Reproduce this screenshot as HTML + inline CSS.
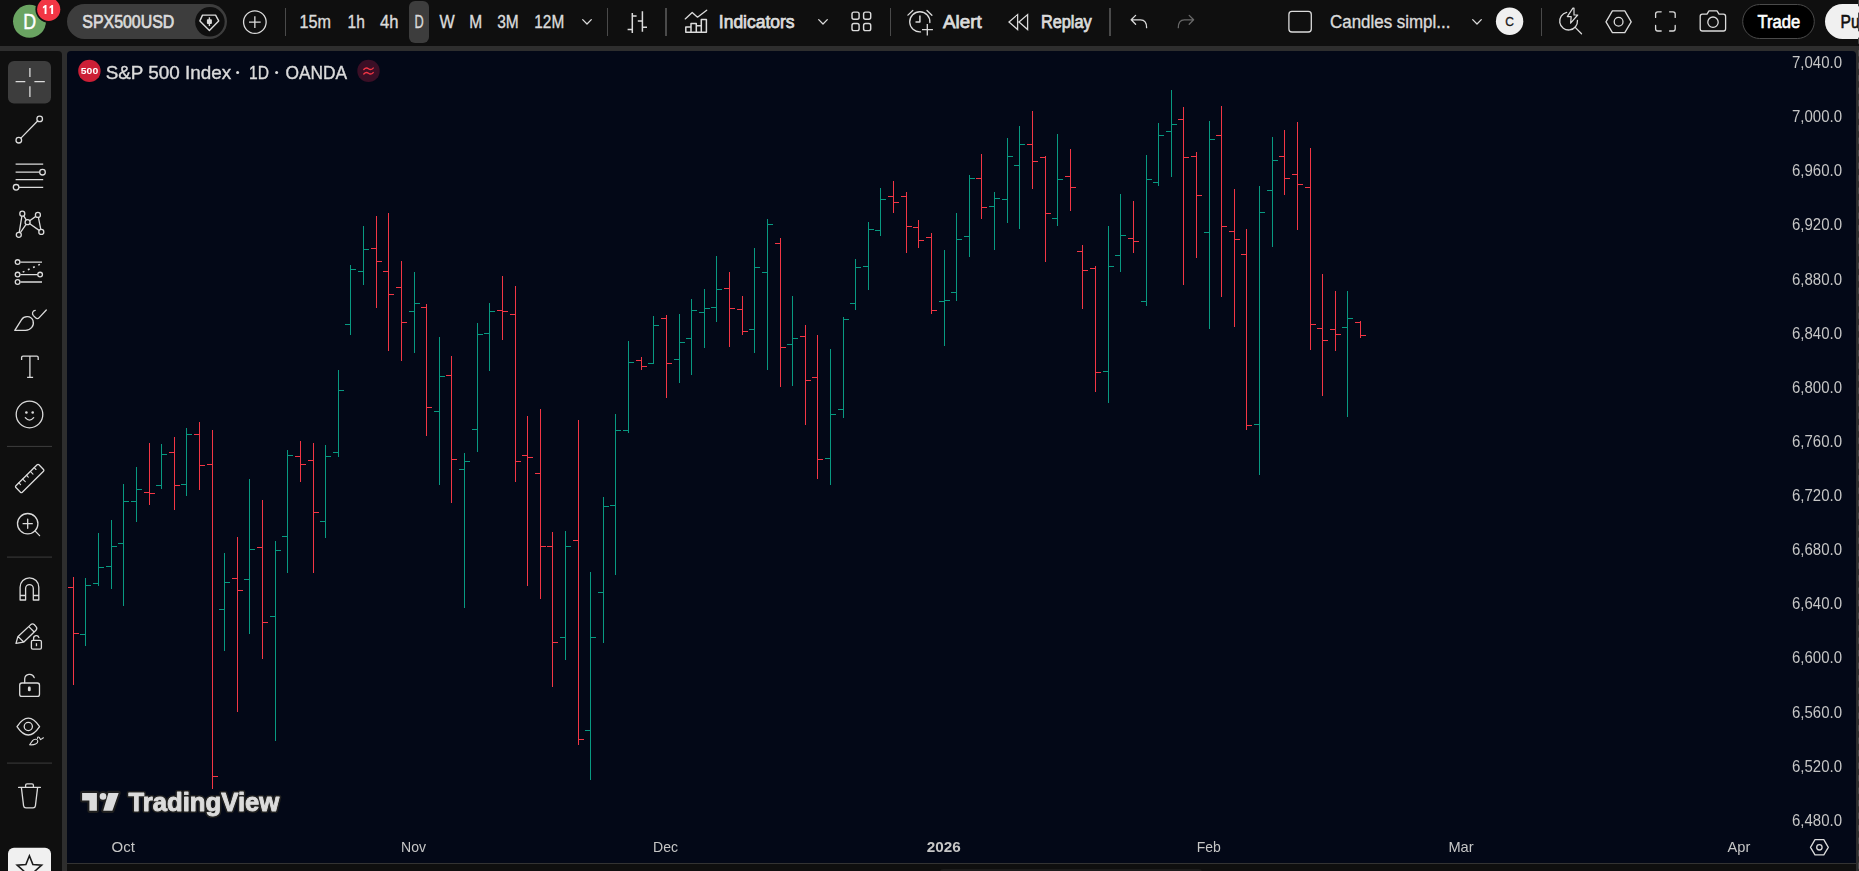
<!DOCTYPE html>
<html><head><meta charset="utf-8"><title>SPX500USD</title>
<style>
html,body{margin:0;padding:0;background:#2e2e2e;width:1859px;height:871px;overflow:hidden;font-family:"Liberation Sans",sans-serif;}
.p{position:absolute;}
#top{left:0;top:0;width:1859px;height:46px;background:#0f0f0f;}
#left{left:0;top:51px;width:62px;height:820px;background:#0f0f0f;border-top-right-radius:4px;}
#chart{left:67px;top:51px;width:1789px;height:812px;background:#030817;border-radius:4px 4px 0 0;}
#bot{left:67px;top:864px;width:1789px;height:7px;background:#0f0f0f;}
svg{position:absolute;left:0;top:0;}
text{font-family:"Liberation Sans",sans-serif;}
</style></head><body>
<div class="p" id="top"></div><div class="p" id="left"></div><div class="p" id="chart"></div><div class="p" id="bot"></div>
<svg width="1859" height="871" viewBox="0 0 1859 871">

<circle cx="29.5" cy="21.35" r="16.5" fill="#6aa462"/>
<text x="29.6" y="29.1" font-size="22.3" fill="#ffffff" font-weight="normal" text-anchor="middle" textLength="12.9" lengthAdjust="spacingAndGlyphs"  stroke="#ffffff" stroke-width="0.5">D</text>
<circle cx="48.7" cy="9.35" r="13.3" fill="#0f0f0f"/><circle cx="48.7" cy="9.35" r="11.6" fill="#f23645"/>
<path fill="#fff" d="M46.5 5.1V13.9H44.6V7.5L42.9 8.6V6.7L45.1 5.1ZM53.1 5.1V13.9H51.2V7.5L49.5 8.6V6.7L51.7 5.1Z"/>
<rect x="67" y="4" width="160" height="35" rx="17.5" fill="#3d3d3d"/>
<circle cx="209.9" cy="21.85" r="14.75" fill="#0f0f0f"/>
<text x="82.3" y="27.9" font-size="17.5" fill="#dbdbdb" font-weight="normal" text-anchor="start" textLength="92" lengthAdjust="spacingAndGlyphs"  stroke="#dbdbdb" stroke-width="0.7">SPX500USD</text>
<path d="M202.5 15.1H215.6L218.7 20.9L209.4 30.4L199.9 20.9Z" stroke-width="1.4" fill="none" stroke="#dbdbdb" stroke-width="1.3" stroke-linecap="round" stroke-linejoin="round"/>
<path d="M209.4 17.3V26.1" stroke-width="1.4" stroke-linecap="butt" fill="none" stroke="#dbdbdb" stroke-width="1.3" stroke-linecap="round" stroke-linejoin="round"/><rect x="206.9" y="19.2" width="5" height="4.8" rx="0.9" fill="#dbdbdb"/>
<circle cx="254.85" cy="22.1" r="11.3" fill="none" stroke="#dbdbdb" stroke-width="1.3" stroke-linecap="round" stroke-linejoin="round"/><path d="M249 22.1H260.7M254.85 16.2V28" stroke-linecap="butt" fill="none" stroke="#dbdbdb" stroke-width="1.3" stroke-linecap="round" stroke-linejoin="round"/>
<rect x="285" y="8" width="1" height="28" fill="#4a4a4a" shape-rendering="crispEdges"/>
<rect x="607" y="8" width="1" height="28" fill="#4a4a4a" shape-rendering="crispEdges"/>
<rect x="665" y="8" width="2" height="28" fill="#4a4a4a" shape-rendering="crispEdges"/>
<rect x="890" y="8" width="1" height="28" fill="#4a4a4a" shape-rendering="crispEdges"/>
<rect x="1109" y="8" width="2" height="28" fill="#4a4a4a" shape-rendering="crispEdges"/>
<rect x="1541" y="8" width="1" height="28" fill="#4a4a4a" shape-rendering="crispEdges"/>
<rect x="409" y="1" width="20" height="42" rx="6" fill="#3d3d3d"/>
<text x="299.5" y="28.1" font-size="17.5" fill="#dbdbdb" font-weight="normal" text-anchor="start" textLength="31.5" lengthAdjust="spacingAndGlyphs"  stroke="#dbdbdb" stroke-width="0.35">15m</text>
<text x="347.6" y="28.1" font-size="17.5" fill="#dbdbdb" font-weight="normal" text-anchor="start" textLength="17.3" lengthAdjust="spacingAndGlyphs"  stroke="#dbdbdb" stroke-width="0.35">1h</text>
<text x="379.9" y="28.1" font-size="17.5" fill="#dbdbdb" font-weight="normal" text-anchor="start" textLength="18.5" lengthAdjust="spacingAndGlyphs"  stroke="#dbdbdb" stroke-width="0.35">4h</text>
<text x="414.6" y="28.1" font-size="17.5" fill="#dbdbdb" font-weight="normal" text-anchor="start" textLength="9.2" lengthAdjust="spacingAndGlyphs"  stroke="#dbdbdb" stroke-width="0.35">D</text>
<text x="439.6" y="28.1" font-size="17.5" fill="#dbdbdb" font-weight="normal" text-anchor="start" textLength="15.2" lengthAdjust="spacingAndGlyphs"  stroke="#dbdbdb" stroke-width="0.35">W</text>
<text x="469.3" y="28.1" font-size="17.5" fill="#dbdbdb" font-weight="normal" text-anchor="start" textLength="12.9" lengthAdjust="spacingAndGlyphs"  stroke="#dbdbdb" stroke-width="0.35">M</text>
<text x="497.2" y="28.1" font-size="17.5" fill="#dbdbdb" font-weight="normal" text-anchor="start" textLength="21.5" lengthAdjust="spacingAndGlyphs"  stroke="#dbdbdb" stroke-width="0.35">3M</text>
<text x="534.3" y="28.1" font-size="17.5" fill="#dbdbdb" font-weight="normal" text-anchor="start" textLength="29.9" lengthAdjust="spacingAndGlyphs"  stroke="#dbdbdb" stroke-width="0.35">12M</text>
<path d="M582.7 19.6L587 24.0L591.3 19.6" fill="none" stroke="#dbdbdb" stroke-width="1.3" stroke-linecap="round" stroke-linejoin="round"/>
<path d="M632.3 12.9V33M627.6 29.6H632.3M632.3 16H636.6M642.4 11.2V31.8M637.8 20.9H642.4M642.4 27.2H647" stroke-linecap="butt" stroke-width="1.5" fill="none" stroke="#dbdbdb" stroke-width="1.3" stroke-linecap="round" stroke-linejoin="round"/>
<path d="M685.2 18.9L692.2 12.4L697.5 17.2L706.7 10.2" fill="none" stroke="#dbdbdb" stroke-width="1.3" stroke-linecap="round" stroke-linejoin="round"/>
<path d="M685.8 32.2V27H691V32.2M691 27V23.4H696.3V32.2M696.3 25.8H701.3V32.2M701.3 25.8V19.4H706.4V32.2H685.8" stroke-width="1.5" fill="none" stroke="#dbdbdb" stroke-width="1.3" stroke-linecap="round" stroke-linejoin="round"/>
<text x="718.8" y="28.1" font-size="17.5" fill="#dbdbdb" font-weight="normal" text-anchor="start" textLength="75.8" lengthAdjust="spacingAndGlyphs"  stroke="#dbdbdb" stroke-width="0.75">Indicators</text>
<path d="M818.7 19.6L823 24.0L827.3 19.6" fill="none" stroke="#dbdbdb" stroke-width="1.3" stroke-linecap="round" stroke-linejoin="round"/>
<rect x="852" y="12.1" width="7.1" height="7.1" rx="1.9" stroke-width="1.45" fill="none" stroke="#dbdbdb" stroke-width="1.3" stroke-linecap="round" stroke-linejoin="round"/>
<rect x="852" y="23.5" width="7.1" height="7.1" rx="1.9" stroke-width="1.45" fill="none" stroke="#dbdbdb" stroke-width="1.3" stroke-linecap="round" stroke-linejoin="round"/>
<rect x="863.6" y="12.1" width="7.1" height="7.1" rx="1.9" stroke-width="1.45" fill="none" stroke="#dbdbdb" stroke-width="1.3" stroke-linecap="round" stroke-linejoin="round"/>
<rect x="863.6" y="23.5" width="7.1" height="7.1" rx="1.9" stroke-width="1.45" fill="none" stroke="#dbdbdb" stroke-width="1.3" stroke-linecap="round" stroke-linejoin="round"/>
<path d="M920.5 31.93A10.1 10.1 0 1 1 929.88 22.55" fill="none" stroke="#dbdbdb" stroke-width="1.3" stroke-linecap="round" stroke-linejoin="round"/>
<path d="M919.9 15.5V21.9H915.5" stroke-width="1.5" stroke-linecap="butt" fill="none" stroke="#dbdbdb" stroke-width="1.3" stroke-linecap="round" stroke-linejoin="round"/>
<path d="M907.9 15.1L912.8 10.5M927 10.5L931.9 15.3" fill="none" stroke="#dbdbdb" stroke-width="1.3" stroke-linecap="round" stroke-linejoin="round"/>
<path d="M922 29.6H932.9M927.3 24V35.4" stroke-linecap="butt" fill="none" stroke="#dbdbdb" stroke-width="1.3" stroke-linecap="round" stroke-linejoin="round"/>
<text x="943" y="28.1" font-size="17.5" fill="#dbdbdb" font-weight="normal" text-anchor="start" textLength="38.7" lengthAdjust="spacingAndGlyphs"  stroke="#dbdbdb" stroke-width="0.75">Alert</text>
<path d="M1017.6 14.6V29.6L1009 22.1ZM1027.6 14.6V29.6L1019 22.1Z" stroke-linejoin="miter" fill="none" stroke="#dbdbdb" stroke-width="1.3" stroke-linecap="round" stroke-linejoin="round"/>
<text x="1040.9" y="28.1" font-size="17.5" fill="#dbdbdb" font-weight="normal" text-anchor="start" textLength="50.8" lengthAdjust="spacingAndGlyphs"  stroke="#dbdbdb" stroke-width="0.75">Replay</text>
<path d="M1135.6 15.4L1131.2 19.8L1135.6 24.2M1131.6 19.8H1140.6Q1146.6 19.8 1146.6 27.7" fill="none" stroke="#dbdbdb" stroke-width="1.3" stroke-linecap="round" stroke-linejoin="round"/>
<path d="M1189.2 15.4L1193.6 19.8L1189.2 24.2M1193.2 19.8H1184.3Q1178.3 19.8 1178.3 27.7" fill="none" stroke="#686868" stroke-width="1.3" stroke-linecap="round" stroke-linejoin="round"/>
<rect x="1288.9" y="11.4" width="22.4" height="20.6" rx="3" fill="none" stroke="#dbdbdb" stroke-width="1.3" stroke-linecap="round" stroke-linejoin="round"/>
<text x="1330" y="28.1" font-size="17.5" fill="#dbdbdb" font-weight="normal" text-anchor="start" textLength="120.4" lengthAdjust="spacingAndGlyphs"  stroke="#dbdbdb" stroke-width="0.35">Candles simpl...</text>
<path d="M1472.7 19.6L1477 24.0L1481.3 19.6" fill="none" stroke="#dbdbdb" stroke-width="1.3" stroke-linecap="round" stroke-linejoin="round"/>
<circle cx="1509.6" cy="21.2" r="13.7" fill="#f0f0f0"/>
<text x="1509.6" y="25.5" font-size="12" fill="#1a1a1a" font-weight="normal" text-anchor="middle"  stroke="#1a1a1a" stroke-width="0.3">C</text>
<path d="M1566.7 12.4A8.9 8.9 0 1 0 1577.45 20.4" fill="none" stroke="#dbdbdb" stroke-width="1.3" stroke-linecap="round" stroke-linejoin="round"/>
<path d="M1575.2 27.4L1581.5 33.7" fill="none" stroke="#dbdbdb" stroke-width="1.3" stroke-linecap="round" stroke-linejoin="round"/>
<path d="M1572.9 8.2L1567.3 16.6H1571.2L1570.6 23.2L1577.7 15H1574L1574 8.2Z" stroke-width="1.2" fill="none" stroke="#dbdbdb" stroke-width="1.3" stroke-linecap="round" stroke-linejoin="round"/>
<path d="M1606 21.8L1612.4 10.9H1624.8L1631.2 21.8L1624.8 32.7H1612.4Z" fill="none" stroke="#dbdbdb" stroke-width="1.3" stroke-linecap="round" stroke-linejoin="round"/><circle cx="1618.6" cy="21.8" r="4.4" fill="none" stroke="#dbdbdb" stroke-width="1.3" stroke-linecap="round" stroke-linejoin="round"/>
<path d="M1655.6 17.4V14Q1655.6 11.8 1657.8 11.8H1661.2M1669.6 11.8H1673Q1675.2 11.8 1675.2 14V17.4M1675.2 25.4V28.8Q1675.2 31 1673 31H1669.6M1661.2 31H1657.8Q1655.6 31 1655.6 28.8V25.4" fill="none" stroke="#dbdbdb" stroke-width="1.3" stroke-linecap="round" stroke-linejoin="round"/>
<path d="M1702.4 14.2H1707L1709 10.8H1717L1719 14.2H1723.4Q1725.6 14.2 1725.6 16.4V28.8Q1725.6 31 1723.4 31H1702.4Q1700.2 31 1700.2 28.8V16.4Q1700.2 14.2 1702.4 14.2Z" fill="none" stroke="#dbdbdb" stroke-width="1.3" stroke-linecap="round" stroke-linejoin="round"/><circle cx="1713" cy="22.2" r="5.2" fill="none" stroke="#dbdbdb" stroke-width="1.3" stroke-linecap="round" stroke-linejoin="round"/>
<rect x="1742.7" y="4.5" width="71.6" height="34" rx="17" fill="#000" stroke="#4a4a4a" stroke-width="1"/>
<text x="1757.5" y="28.1" font-size="17.5" fill="#ffffff" font-weight="normal" text-anchor="start" textLength="42.7" lengthAdjust="spacingAndGlyphs"  stroke="#ffffff" stroke-width="0.6">Trade</text>
<rect x="1825" y="4" width="80" height="35" rx="17.5" fill="#f0f0f0"/>
<text x="1840.6" y="28.1" font-size="17.5" fill="#0f0f0f" font-weight="normal" text-anchor="start" textLength="19" lengthAdjust="spacingAndGlyphs"  stroke="#0f0f0f" stroke-width="0.6">Pu</text>
<rect x="8" y="61" width="43" height="42.4" rx="6" fill="#3d3d3d"/>
<path d="M15.6 81.7H25.3M34.4 81.7H44.8M29.9 67.9V77.1M29.9 86.3V97.1" stroke-linecap="butt" fill="none" stroke="#dbdbdb" stroke-width="1.3" stroke-linecap="round" stroke-linejoin="round"/>
<path d="M20.9 138.1L37.6 121" fill="none" stroke="#dbdbdb" stroke-width="1.3" stroke-linecap="round" stroke-linejoin="round"/><circle cx="39.7" cy="118.9" r="2.8" fill="none" stroke="#dbdbdb" stroke-width="1.3" stroke-linecap="round" stroke-linejoin="round"/><circle cx="18.8" cy="140.2" r="2.8" fill="none" stroke="#dbdbdb" stroke-width="1.3" stroke-linecap="round" stroke-linejoin="round"/>
<path d="M15.6 164.1H43.2M15.6 172.2H39.6M15.6 179.7H43.2M19 187.3H43.2" stroke-linecap="butt" fill="none" stroke="#dbdbdb" stroke-width="1.3" stroke-linecap="round" stroke-linejoin="round"/><circle cx="42.5" cy="172.2" r="2.8" stroke="#dbdbdb" stroke-width="1.3" stroke-linecap="round" stroke-linejoin="round" fill="#0f0f0f"/><circle cx="16.1" cy="187.3" r="2.8" stroke="#dbdbdb" stroke-width="1.3" stroke-linecap="round" stroke-linejoin="round" fill="#0f0f0f"/>
<path d="M18.8 234.8L22.3 213.7L27.6 222.2L37.9 214.9L41.3 231.9L27.6 222.2Z" fill="none" stroke="#dbdbdb" stroke-width="1.3" stroke-linecap="round" stroke-linejoin="round"/>
<circle cx="22.3" cy="213.7" r="2.5" stroke="#dbdbdb" stroke-width="1.3" stroke-linecap="round" stroke-linejoin="round" fill="#0f0f0f"/>
<circle cx="37.9" cy="214.9" r="2.5" stroke="#dbdbdb" stroke-width="1.3" stroke-linecap="round" stroke-linejoin="round" fill="#0f0f0f"/>
<circle cx="27.6" cy="222.2" r="2.5" stroke="#dbdbdb" stroke-width="1.3" stroke-linecap="round" stroke-linejoin="round" fill="#0f0f0f"/>
<circle cx="41.3" cy="231.9" r="2.5" stroke="#dbdbdb" stroke-width="1.3" stroke-linecap="round" stroke-linejoin="round" fill="#0f0f0f"/>
<circle cx="18.8" cy="234.8" r="2.5" stroke="#dbdbdb" stroke-width="1.3" stroke-linecap="round" stroke-linejoin="round" fill="#0f0f0f"/>
<path d="M20.4 262.1H42M20.4 274.6H37.4M20.4 282H42" stroke-linecap="butt" fill="none" stroke="#dbdbdb" stroke-width="1.3" stroke-linecap="round" stroke-linejoin="round"/>
<path d="M22.7 272.1L40.4 264.2" stroke-dasharray="1.9 3.76" stroke-linecap="butt" stroke-width="1.5" fill="none" stroke="#dbdbdb" stroke-width="1.3" stroke-linecap="round" stroke-linejoin="round"/>
<circle cx="17.6" cy="262.1" r="2.35" fill="none" stroke="#dbdbdb" stroke-width="1.3" stroke-linecap="round" stroke-linejoin="round"/>
<circle cx="17.6" cy="274.6" r="2.35" fill="none" stroke="#dbdbdb" stroke-width="1.3" stroke-linecap="round" stroke-linejoin="round"/>
<circle cx="40.1" cy="274.6" r="2.35" fill="none" stroke="#dbdbdb" stroke-width="1.3" stroke-linecap="round" stroke-linejoin="round"/>
<circle cx="17.6" cy="282" r="2.35" fill="none" stroke="#dbdbdb" stroke-width="1.3" stroke-linecap="round" stroke-linejoin="round"/>
<path d="M14.8 330.4L21.6 319.6C24 315.6 31 315.4 33 320.6C34.6 326 30.6 330.2 25.6 330.3Z" fill="none" stroke="#dbdbdb" stroke-width="1.3" stroke-linecap="round" stroke-linejoin="round"/>
<path d="M35.2 310.4C32.6 310.8 31.6 313.6 33.4 315.6L35.6 317.8C36.8 319 38 319 39.2 317.6L46.3 310" fill="none" stroke="#dbdbdb" stroke-width="1.3" stroke-linecap="round" stroke-linejoin="round"/>
<path d="M21.6 360V357.6Q21.6 356.2 23 356.2H36.8Q38.2 356.2 38.2 357.6V360M29.9 356.2V377.4M27.1 377.4H33.1" stroke-linecap="butt" fill="none" stroke="#dbdbdb" stroke-width="1.3" stroke-linecap="round" stroke-linejoin="round"/>
<circle cx="29.5" cy="414.5" r="13.3" fill="none" stroke="#dbdbdb" stroke-width="1.3" stroke-linecap="round" stroke-linejoin="round"/><circle cx="26.4" cy="412.5" r="1.3" fill="#dbdbdb"/><circle cx="32.7" cy="412.5" r="1.3" fill="#dbdbdb"/><path d="M25.3 417.7Q29.5 422.6 33.7 417.7" fill="none" stroke="#dbdbdb" stroke-width="1.3" stroke-linecap="round" stroke-linejoin="round"/>
<rect x="7" y="445.9" width="45" height="1" fill="#3d3d3d"/>
<rect x="7" y="556.6" width="45" height="1" fill="#3d3d3d"/>
<rect x="7" y="762.6" width="45" height="1" fill="#3d3d3d"/>
<g transform="translate(29.7 478.5) rotate(-44.6)"><rect x="-16.2" y="-4.55" width="32.4" height="9.1" rx="1.3" fill="none" stroke="#dbdbdb" stroke-width="1.3" stroke-linecap="round" stroke-linejoin="round"/><path d="M-10.8 -4.55V-2M-5.4 -4.55V-0.8M0 -4.55V-2M5.4 -4.55V-0.8M10.8 -4.55V-2" stroke-width="1.1" fill="none" stroke="#dbdbdb" stroke-width="1.3" stroke-linecap="round" stroke-linejoin="round"/></g>
<circle cx="27.7" cy="523.7" r="10.2" fill="none" stroke="#dbdbdb" stroke-width="1.3" stroke-linecap="round" stroke-linejoin="round"/><path d="M23.1 523.7H32.3M27.7 519.1V528.3M35 530.9L39.6 535.6" fill="none" stroke="#dbdbdb" stroke-width="1.3" stroke-linecap="round" stroke-linejoin="round"/>
<path d="M20.1 600V587.15A9.35 9.35 0 0 1 38.8 587.15V600H33.3V588.55A3.85 3.85 0 0 0 25.6 588.55V600ZM20.1 595.5H25.6M33.3 595.5H38.8" fill="none" stroke="#dbdbdb" stroke-width="1.3" stroke-linecap="round" stroke-linejoin="round"/>
<path d="M16 643.4L17.8 636.8L30.8 624.6Q32.6 623 34.4 624.8L36 626.6Q37.6 628.4 36 630.2L23.6 642.2ZM18.2 636.6L23.4 641.8M28.8 626.6L34.2 632" fill="none" stroke="#dbdbdb" stroke-width="1.3" stroke-linecap="round" stroke-linejoin="round"/>
<rect x="31.4" y="640.4" width="10" height="8.8" rx="1.4" stroke="#dbdbdb" stroke-width="1.3" stroke-linecap="round" stroke-linejoin="round" fill="#0f0f0f"/><path d="M33.6 640.2V638.4A2.7 2.7 0 0 1 38.9 637.6" fill="none" stroke="#dbdbdb" stroke-width="1.3" stroke-linecap="round" stroke-linejoin="round"/><rect x="35.8" y="643.2" width="1.3" height="3" fill="#dbdbdb"/>
<rect x="19.7" y="683" width="19.8" height="13.4" rx="2.2" fill="none" stroke="#dbdbdb" stroke-width="1.3" stroke-linecap="round" stroke-linejoin="round"/><path d="M24.7 682.8V678.9A4.9 4.9 0 0 1 34.2 677.6" fill="none" stroke="#dbdbdb" stroke-width="1.3" stroke-linecap="round" stroke-linejoin="round"/><rect x="27.9" y="686.6" width="2.8" height="4.6" rx="1.3" fill="#dbdbdb"/>
<path d="M17 726.6Q28.3 709.8 39.6 726.6Q28.3 743.4 17 726.6Z" fill="none" stroke="#dbdbdb" stroke-width="1.3" stroke-linecap="round" stroke-linejoin="round"/><circle cx="28.3" cy="726.5" r="4.1" fill="none" stroke="#dbdbdb" stroke-width="1.3" stroke-linecap="round" stroke-linejoin="round"/>
<path d="M29.6 744.8L32.6 740.6C34 738.6 37.6 738.8 37.8 741C38 743.6 34.6 745.2 29.6 744.8ZM37.4 738.4C37.4 737 38.4 736.6 39.2 737.4L40.6 739.6L43.4 737.8" stroke-width="1.1" fill="none" stroke="#dbdbdb" stroke-width="1.3" stroke-linecap="round" stroke-linejoin="round"/>
<path d="M18.6 787.4H40.4M25.6 787.2V785.2Q25.6 783.8 27 783.8H32Q33.4 783.8 33.4 785.2V787.2M21.4 787.6L23.6 805.8Q23.9 807.8 25.9 807.8H33.1Q35.1 807.8 35.4 805.8L37.6 787.6" fill="none" stroke="#dbdbdb" stroke-width="1.3" stroke-linecap="round" stroke-linejoin="round"/>
<rect x="8" y="847.7" width="43" height="40" rx="6" fill="#f0f0f0"/>
<path d="M29.4 855.8L32.9 864.6L41.6 865.2L34.8 871.2L37 880L29.4 875.2L21.8 880L24 871.2L17.2 865.2L25.9 864.6Z" fill="none" stroke="#1a1a1a" stroke-width="1.6" stroke-linejoin="miter"/>
</svg>
<svg width="1859" height="871" viewBox="0 0 1859 871" style="will-change:transform">
<circle cx="89.4" cy="70.9" r="11.2" fill="#cc1f36"/>
<text x="89.5" y="74.2" font-size="8.8" fill="#ffffff" font-weight="bold" text-anchor="middle" textLength="17.4" lengthAdjust="spacingAndGlyphs" >500</text>
<text x="105.7" y="78.7" font-size="19" fill="#dbdbdb" font-weight="normal" text-anchor="start" textLength="125.5" lengthAdjust="spacingAndGlyphs"  stroke="#dbdbdb" stroke-width="0.4">S&amp;P 500 Index</text>
<text x="249" y="78.7" font-size="19" fill="#dbdbdb" font-weight="normal" text-anchor="start" textLength="19.9" lengthAdjust="spacingAndGlyphs"  stroke="#dbdbdb" stroke-width="0.4">1D</text>
<text x="285.4" y="78.7" font-size="19" fill="#dbdbdb" font-weight="normal" text-anchor="start" textLength="61.7" lengthAdjust="spacingAndGlyphs"  stroke="#dbdbdb" stroke-width="0.4">OANDA</text>
<circle cx="237.6" cy="72.6" r="1.5" fill="#dbdbdb"/><circle cx="276.6" cy="72.6" r="1.5" fill="#dbdbdb"/>
<circle cx="368.5" cy="70.9" r="11.2" fill="#3b0f26"/>
<path d="M363.8 69.5Q366.1 67 368.5 68.8T373.2 68.1M363.8 74Q366.1 71.5 368.5 73.3T373.2 72.6" fill="none" stroke="#f23645" stroke-width="1.4" stroke-linecap="round"/>
<g shape-rendering="crispEdges"><path fill="#f23645" d="M73 577h1v108h-1zM68 587h5v1h-5zM74 633h5v1h-5z"/><path fill="#089981" d="M85 578h1v68h-1zM80 634h5v1h-5zM86 585h5v1h-5z"/><path fill="#089981" d="M98 533h1v53h-1zM93 583h5v1h-5zM99 567h5v1h-5z"/><path fill="#089981" d="M111 520h1v69h-1zM106 566h5v1h-5zM112 546h5v1h-5z"/><path fill="#089981" d="M123 484h1v122h-1zM118 543h5v1h-5zM124 501h5v1h-5z"/><path fill="#089981" d="M136 467h1v55h-1zM131 501h5v1h-5zM137 489h5v1h-5z"/><path fill="#f23645" d="M149 443h1v62h-1zM144 492h5v1h-5zM150 493h5v1h-5z"/><path fill="#089981" d="M161 444h1v45h-1zM156 485h5v1h-5zM162 454h5v1h-5z"/><path fill="#f23645" d="M174 437h1v73h-1zM169 452h5v1h-5zM175 485h5v1h-5z"/><path fill="#089981" d="M186 428h1v68h-1zM181 484h5v1h-5zM187 434h5v1h-5z"/><path fill="#f23645" d="M199 422h1v68h-1zM194 434h5v1h-5zM200 465h5v1h-5z"/><path fill="#f23645" d="M212 430h1v359h-1zM207 464h5v1h-5zM213 776h5v1h-5z"/><path fill="#089981" d="M224 553h1v98h-1zM219 609h5v1h-5zM225 582h5v1h-5z"/><path fill="#f23645" d="M237 537h1v175h-1zM232 578h5v1h-5zM238 590h5v1h-5z"/><path fill="#089981" d="M249 479h1v155h-1zM244 579h5v1h-5zM250 549h5v1h-5z"/><path fill="#f23645" d="M262 500h1v159h-1zM257 547h5v1h-5zM263 622h5v1h-5z"/><path fill="#089981" d="M275 541h1v200h-1zM270 616h5v1h-5zM276 550h5v1h-5z"/><path fill="#089981" d="M287 450h1v123h-1zM282 536h5v1h-5zM288 455h5v1h-5z"/><path fill="#f23645" d="M300 441h1v41h-1zM295 456h5v1h-5zM301 464h5v1h-5z"/><path fill="#f23645" d="M313 443h1v130h-1zM308 460h5v1h-5zM314 512h5v1h-5z"/><path fill="#089981" d="M325 445h1v93h-1zM320 521h5v1h-5zM326 456h5v1h-5z"/><path fill="#089981" d="M338 370h1v87h-1zM333 452h5v1h-5zM339 390h5v1h-5z"/><path fill="#089981" d="M350 265h1v70h-1zM345 324h5v1h-5zM351 269h5v1h-5z"/><path fill="#089981" d="M363 226h1v59h-1zM358 271h5v1h-5zM364 249h5v1h-5z"/><path fill="#f23645" d="M376 216h1v92h-1zM371 248h5v1h-5zM377 261h5v1h-5z"/><path fill="#f23645" d="M388 213h1v138h-1zM383 271h5v1h-5zM389 294h5v1h-5z"/><path fill="#f23645" d="M401 261h1v100h-1zM396 287h5v1h-5zM402 322h5v1h-5z"/><path fill="#089981" d="M414 272h1v81h-1zM409 311h5v1h-5zM415 303h5v1h-5z"/><path fill="#f23645" d="M426 304h1v132h-1zM421 307h5v1h-5zM427 407h5v1h-5z"/><path fill="#089981" d="M439 337h1v148h-1zM434 411h5v1h-5zM440 376h5v1h-5z"/><path fill="#f23645" d="M451 356h1v147h-1zM446 375h5v1h-5zM452 459h5v1h-5z"/><path fill="#089981" d="M464 453h1v155h-1zM459 469h5v1h-5zM465 461h5v1h-5z"/><path fill="#089981" d="M477 323h1v129h-1zM472 429h5v1h-5zM478 334h5v1h-5z"/><path fill="#089981" d="M489 303h1v68h-1zM484 333h5v1h-5zM490 311h5v1h-5z"/><path fill="#f23645" d="M502 276h1v64h-1zM497 310h5v1h-5zM503 311h5v1h-5z"/><path fill="#f23645" d="M515 286h1v196h-1zM510 314h5v1h-5zM516 461h5v1h-5z"/><path fill="#f23645" d="M527 416h1v170h-1zM522 455h5v1h-5zM528 457h5v1h-5z"/><path fill="#f23645" d="M540 409h1v190h-1zM535 473h5v1h-5zM541 546h5v1h-5z"/><path fill="#f23645" d="M552 532h1v155h-1zM547 546h5v1h-5zM553 642h5v1h-5z"/><path fill="#089981" d="M565 531h1v129h-1zM560 637h5v1h-5zM566 546h5v1h-5z"/><path fill="#f23645" d="M578 420h1v325h-1zM573 540h5v1h-5zM579 739h5v1h-5z"/><path fill="#089981" d="M590 572h1v208h-1zM585 730h5v1h-5zM591 637h5v1h-5z"/><path fill="#089981" d="M603 497h1v146h-1zM598 592h5v1h-5zM604 506h5v1h-5z"/><path fill="#089981" d="M615 414h1v161h-1zM610 505h5v1h-5zM616 430h5v1h-5z"/><path fill="#089981" d="M628 341h1v92h-1zM623 430h5v1h-5zM629 362h5v1h-5z"/><path fill="#f23645" d="M641 357h1v13h-1zM636 360h5v1h-5zM642 366h5v1h-5z"/><path fill="#089981" d="M653 316h1v48h-1zM648 363h5v1h-5zM654 325h5v1h-5z"/><path fill="#f23645" d="M666 315h1v83h-1zM661 318h5v1h-5zM667 363h5v1h-5z"/><path fill="#089981" d="M679 314h1v69h-1zM674 359h5v1h-5zM680 342h5v1h-5z"/><path fill="#089981" d="M691 299h1v76h-1zM686 338h5v1h-5zM692 310h5v1h-5z"/><path fill="#089981" d="M704 289h1v59h-1zM699 312h5v1h-5zM705 308h5v1h-5z"/><path fill="#089981" d="M716 256h1v66h-1zM711 307h5v1h-5zM717 289h5v1h-5z"/><path fill="#f23645" d="M729 272h1v75h-1zM724 288h5v1h-5zM730 308h5v1h-5z"/><path fill="#f23645" d="M742 296h1v39h-1zM737 309h5v1h-5zM743 331h5v1h-5z"/><path fill="#089981" d="M754 248h1v105h-1zM749 329h5v1h-5zM755 267h5v1h-5z"/><path fill="#089981" d="M767 219h1v151h-1zM762 272h5v1h-5zM768 224h5v1h-5z"/><path fill="#f23645" d="M780 238h1v149h-1zM775 243h5v1h-5zM781 347h5v1h-5z"/><path fill="#089981" d="M792 296h1v90h-1zM787 344h5v1h-5zM793 338h5v1h-5z"/><path fill="#f23645" d="M805 325h1v100h-1zM800 336h5v1h-5zM806 380h5v1h-5z"/><path fill="#f23645" d="M817 335h1v144h-1zM812 377h5v1h-5zM818 459h5v1h-5z"/><path fill="#089981" d="M830 349h1v136h-1zM825 458h5v1h-5zM831 414h5v1h-5z"/><path fill="#089981" d="M843 317h1v101h-1zM838 409h5v1h-5zM844 319h5v1h-5z"/><path fill="#089981" d="M855 259h1v51h-1zM850 303h5v1h-5zM856 267h5v1h-5z"/><path fill="#089981" d="M868 222h1v68h-1zM863 266h5v1h-5zM869 229h5v1h-5z"/><path fill="#089981" d="M880 188h1v48h-1zM875 230h5v1h-5zM881 199h5v1h-5z"/><path fill="#f23645" d="M893 181h1v32h-1zM888 196h5v1h-5zM894 202h5v1h-5z"/><path fill="#f23645" d="M906 192h1v61h-1zM901 196h5v1h-5zM907 226h5v1h-5z"/><path fill="#f23645" d="M918 220h1v28h-1zM913 227h5v1h-5zM919 240h5v1h-5z"/><path fill="#f23645" d="M931 233h1v81h-1zM926 237h5v1h-5zM932 310h5v1h-5z"/><path fill="#089981" d="M944 250h1v96h-1zM939 301h5v1h-5zM945 300h5v1h-5z"/><path fill="#089981" d="M956 213h1v88h-1zM951 292h5v1h-5zM957 239h5v1h-5z"/><path fill="#089981" d="M969 175h1v82h-1zM964 236h5v1h-5zM970 178h5v1h-5z"/><path fill="#f23645" d="M981 154h1v65h-1zM976 178h5v1h-5zM982 207h5v1h-5z"/><path fill="#089981" d="M994 192h1v58h-1zM989 206h5v1h-5zM995 198h5v1h-5z"/><path fill="#089981" d="M1007 138h1v85h-1zM1002 199h5v1h-5zM1008 156h5v1h-5z"/><path fill="#089981" d="M1019 126h1v103h-1zM1014 165h5v1h-5zM1020 144h5v1h-5z"/><path fill="#f23645" d="M1032 111h1v78h-1zM1027 144h5v1h-5zM1033 161h5v1h-5z"/><path fill="#f23645" d="M1045 156h1v106h-1zM1040 157h5v1h-5zM1046 213h5v1h-5z"/><path fill="#089981" d="M1057 134h1v92h-1zM1052 218h5v1h-5zM1058 179h5v1h-5z"/><path fill="#f23645" d="M1070 149h1v62h-1zM1065 176h5v1h-5zM1071 187h5v1h-5z"/><path fill="#f23645" d="M1082 245h1v64h-1zM1077 251h5v1h-5zM1083 270h5v1h-5z"/><path fill="#f23645" d="M1095 266h1v126h-1zM1090 268h5v1h-5zM1096 372h5v1h-5z"/><path fill="#089981" d="M1108 226h1v177h-1zM1103 371h5v1h-5zM1109 266h5v1h-5z"/><path fill="#089981" d="M1120 194h1v78h-1zM1115 255h5v1h-5zM1121 235h5v1h-5z"/><path fill="#f23645" d="M1133 201h1v52h-1zM1128 238h5v1h-5zM1134 241h5v1h-5z"/><path fill="#089981" d="M1146 155h1v151h-1zM1141 301h5v1h-5zM1147 179h5v1h-5z"/><path fill="#089981" d="M1158 123h1v63h-1zM1153 182h5v1h-5zM1159 135h5v1h-5z"/><path fill="#089981" d="M1171 90h1v87h-1zM1166 131h5v1h-5zM1172 124h5v1h-5z"/><path fill="#f23645" d="M1183 107h1v178h-1zM1178 119h5v1h-5zM1184 157h5v1h-5z"/><path fill="#f23645" d="M1196 152h1v106h-1zM1191 156h5v1h-5zM1197 195h5v1h-5z"/><path fill="#089981" d="M1209 121h1v208h-1zM1204 232h5v1h-5zM1210 139h5v1h-5z"/><path fill="#f23645" d="M1221 106h1v191h-1zM1216 135h5v1h-5zM1222 226h5v1h-5z"/><path fill="#f23645" d="M1234 189h1v138h-1zM1229 231h5v1h-5zM1235 239h5v1h-5z"/><path fill="#f23645" d="M1246 229h1v201h-1zM1241 254h5v1h-5zM1247 425h5v1h-5z"/><path fill="#089981" d="M1259 186h1v289h-1zM1254 424h5v1h-5zM1260 212h5v1h-5z"/><path fill="#089981" d="M1272 137h1v110h-1zM1267 190h5v1h-5zM1273 160h5v1h-5z"/><path fill="#f23645" d="M1284 130h1v65h-1zM1279 156h5v1h-5zM1285 178h5v1h-5z"/><path fill="#f23645" d="M1297 122h1v108h-1zM1292 174h5v1h-5zM1298 184h5v1h-5z"/><path fill="#f23645" d="M1310 148h1v202h-1zM1305 187h5v1h-5zM1311 324h5v1h-5z"/><path fill="#f23645" d="M1322 274h1v122h-1zM1317 328h5v1h-5zM1323 340h5v1h-5z"/><path fill="#f23645" d="M1335 291h1v60h-1zM1330 329h5v1h-5zM1336 334h5v1h-5z"/><path fill="#089981" d="M1347 291h1v126h-1zM1342 327h5v1h-5zM1348 318h5v1h-5z"/><path fill="#f23645" d="M1360 321h1v17h-1zM1355 322h5v1h-5zM1361 335h5v1h-5z"/></g>
<text x="1842" y="67.9" font-size="15.6" fill="#c6c6c6" font-weight="normal" text-anchor="end" textLength="50" lengthAdjust="spacingAndGlyphs" >7,040.0</text>
<text x="1842" y="122.0" font-size="15.6" fill="#c6c6c6" font-weight="normal" text-anchor="end" textLength="50" lengthAdjust="spacingAndGlyphs" >7,000.0</text>
<text x="1842" y="176.2" font-size="15.6" fill="#c6c6c6" font-weight="normal" text-anchor="end" textLength="50" lengthAdjust="spacingAndGlyphs" >6,960.0</text>
<text x="1842" y="230.3" font-size="15.6" fill="#c6c6c6" font-weight="normal" text-anchor="end" textLength="50" lengthAdjust="spacingAndGlyphs" >6,920.0</text>
<text x="1842" y="284.5" font-size="15.6" fill="#c6c6c6" font-weight="normal" text-anchor="end" textLength="50" lengthAdjust="spacingAndGlyphs" >6,880.0</text>
<text x="1842" y="338.6" font-size="15.6" fill="#c6c6c6" font-weight="normal" text-anchor="end" textLength="50" lengthAdjust="spacingAndGlyphs" >6,840.0</text>
<text x="1842" y="392.7" font-size="15.6" fill="#c6c6c6" font-weight="normal" text-anchor="end" textLength="50" lengthAdjust="spacingAndGlyphs" >6,800.0</text>
<text x="1842" y="446.9" font-size="15.6" fill="#c6c6c6" font-weight="normal" text-anchor="end" textLength="50" lengthAdjust="spacingAndGlyphs" >6,760.0</text>
<text x="1842" y="501.0" font-size="15.6" fill="#c6c6c6" font-weight="normal" text-anchor="end" textLength="50" lengthAdjust="spacingAndGlyphs" >6,720.0</text>
<text x="1842" y="555.2" font-size="15.6" fill="#c6c6c6" font-weight="normal" text-anchor="end" textLength="50" lengthAdjust="spacingAndGlyphs" >6,680.0</text>
<text x="1842" y="609.3" font-size="15.6" fill="#c6c6c6" font-weight="normal" text-anchor="end" textLength="50" lengthAdjust="spacingAndGlyphs" >6,640.0</text>
<text x="1842" y="663.4" font-size="15.6" fill="#c6c6c6" font-weight="normal" text-anchor="end" textLength="50" lengthAdjust="spacingAndGlyphs" >6,600.0</text>
<text x="1842" y="717.6" font-size="15.6" fill="#c6c6c6" font-weight="normal" text-anchor="end" textLength="50" lengthAdjust="spacingAndGlyphs" >6,560.0</text>
<text x="1842" y="771.7" font-size="15.6" fill="#c6c6c6" font-weight="normal" text-anchor="end" textLength="50" lengthAdjust="spacingAndGlyphs" >6,520.0</text>
<text x="1842" y="825.9" font-size="15.6" fill="#c6c6c6" font-weight="normal" text-anchor="end" textLength="50" lengthAdjust="spacingAndGlyphs" >6,480.0</text>
<text x="111.6" y="852.2" font-size="15" fill="#c6c6c6" font-weight="normal" text-anchor="start" textLength="23.3" lengthAdjust="spacingAndGlyphs" >Oct</text>
<text x="401.0" y="852.2" font-size="15" fill="#c6c6c6" font-weight="normal" text-anchor="start" textLength="25" lengthAdjust="spacingAndGlyphs" >Nov</text>
<text x="653.0" y="852.2" font-size="15" fill="#c6c6c6" font-weight="normal" text-anchor="start" textLength="25" lengthAdjust="spacingAndGlyphs" >Dec</text>
<text x="926.7" y="852.2" font-size="15" fill="#c6c6c6" font-weight="bold" text-anchor="start" textLength="34" lengthAdjust="spacingAndGlyphs" >2026</text>
<text x="1196.7" y="852.2" font-size="15" fill="#c6c6c6" font-weight="normal" text-anchor="start" textLength="24.1" lengthAdjust="spacingAndGlyphs" >Feb</text>
<text x="1448.4" y="852.2" font-size="15" fill="#c6c6c6" font-weight="normal" text-anchor="start" textLength="25.2" lengthAdjust="spacingAndGlyphs" >Mar</text>
<text x="1727.5" y="852.2" font-size="15" fill="#c6c6c6" font-weight="normal" text-anchor="start" textLength="22.8" lengthAdjust="spacingAndGlyphs" >Apr</text>
<path d="M1810.5 847.3L1815 839.7H1823.8L1828.3 847.3L1823.8 854.9H1815Z" fill="none" stroke="#dbdbdb" stroke-width="1.3" stroke-linecap="round" stroke-linejoin="round"/><circle cx="1819.4" cy="847.3" r="2.7" fill="none" stroke="#dbdbdb" stroke-width="1.3" stroke-linecap="round" stroke-linejoin="round"/>
<rect x="67" y="863" width="1789" height="1" fill="#333"/>
<rect x="940" y="869" width="262" height="6" rx="3" fill="#1c1c1c"/>
<g stroke="#1f1f1f" stroke-width="4.2" stroke-linejoin="round" fill="#1f1f1f"><path d="M82.1 792.9H96.9V810.8H89.4V800.4H82.1Z"/><circle cx="103" cy="796.4" r="3.3"/><path d="M108.4 792.9H118.7L112.4 810.8H103.2Z"/><text x="128.5" y="810.8" font-size="25" font-weight="bold" textLength="150.8" lengthAdjust="spacingAndGlyphs">TradingView</text></g>
<g fill="#dcdcdc"><path d="M82.1 792.9H96.9V810.8H89.4V800.4H82.1Z"/><circle cx="103" cy="796.4" r="3.3"/><path d="M108.4 792.9H118.7L112.4 810.8H103.2Z"/></g><g fill="#dcdcdc" stroke="#dcdcdc" stroke-width="0.9" stroke-linejoin="round"><text x="128.5" y="810.8" font-size="25" font-weight="bold" textLength="150.8" lengthAdjust="spacingAndGlyphs">TradingView</text></g>
<path d="M1858.5 0V871" stroke="#484848" stroke-width="1" stroke-dasharray="6.2 6.3" stroke-dashoffset="-0.1" fill="none"/>
</svg></body></html>
